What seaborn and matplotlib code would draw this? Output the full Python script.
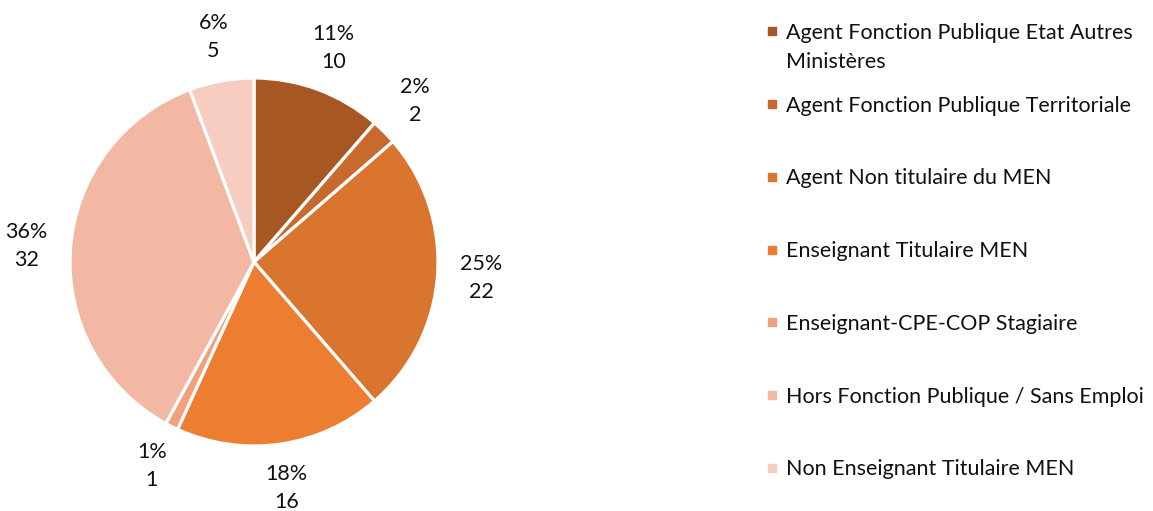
import matplotlib
matplotlib.use("Agg")
import matplotlib.pyplot as plt
import seaborn as sns
from matplotlib.lines import Line2D

categories = [
    "Agent Fonction Publique Etat Autres",
    "Agent Fonction Publique Territoriale",
    "Agent Non titulaire du MEN",
    "Enseignant Titulaire MEN",
    "Enseignant-CPE-COP Stagiaire",
    "Hors Fonction Publique / Sans Emploi",
    "Non Enseignant Titulaire MEN",
]
first_label_cont = "Ministères"
values = [10, 2, 22, 16, 1, 32, 5]
colors = ["#A65722", "#C8692E", "#D9752F", "#ED7D31", "#F0A17A", "#F3B8A4", "#F7CDC2"]

sns.set_theme(style="white")
plt.rcParams["font.family"] = ["Lato", "DejaVu Sans"]

W, H = 1153, 511
FS = 15.5
TXT = "#111111"
fig = plt.figure(figsize=(W / 100, H / 100), dpi=100)
cx, cy, r = 254, 262, 184
ax = fig.add_axes([(cx - r) / W, (H - cy - r) / H, 2 * r / W, 2 * r / H])

total = sum(values)
labels = [f"{round(v / total * 100):.0f}%\n{v}" for v in values]
wedges, texts = ax.pie(
    values, colors=colors, startangle=90, counterclock=False,
    labels=labels, labeldistance=1.24,
    wedgeprops=dict(edgecolor="white", linewidth=2.3),
    textprops=dict(fontsize=FS, color=TXT, linespacing=1.5),
)
for t in texts:
    t.set_ha("center")
    t.set_va("center")
ax.set_xlim(-1, 1)
ax.set_ylim(-1, 1)
ax.set_aspect("equal")
ax.axis("off")

handles = [Line2D([], [], marker="s", linestyle="none", markersize=5.8,
                  markerfacecolor=c, markeredgecolor=c) for c in colors]
leg = fig.legend(handles, categories, loc="upper left",
                 bbox_to_anchor=(766 / W, 1 - 23 / H), frameon=False,
                 fontsize=FS, labelspacing=2.45, handlelength=0.6,
                 handletextpad=0.35, borderpad=0, borderaxespad=0)
for t in leg.get_texts():
    t.set_color(TXT)
fig.canvas.draw()
first = leg.get_texts()[0]
fig.text(0, 0, "") 
ax.annotate(first_label_cont, xy=(0, 0.5), xycoords=first,
            xytext=(0, -29), textcoords="offset pixels",
            ha="left", va="center", fontsize=FS, color=TXT,
            annotation_clip=False)

fig.savefig("out.png", dpi=100)
